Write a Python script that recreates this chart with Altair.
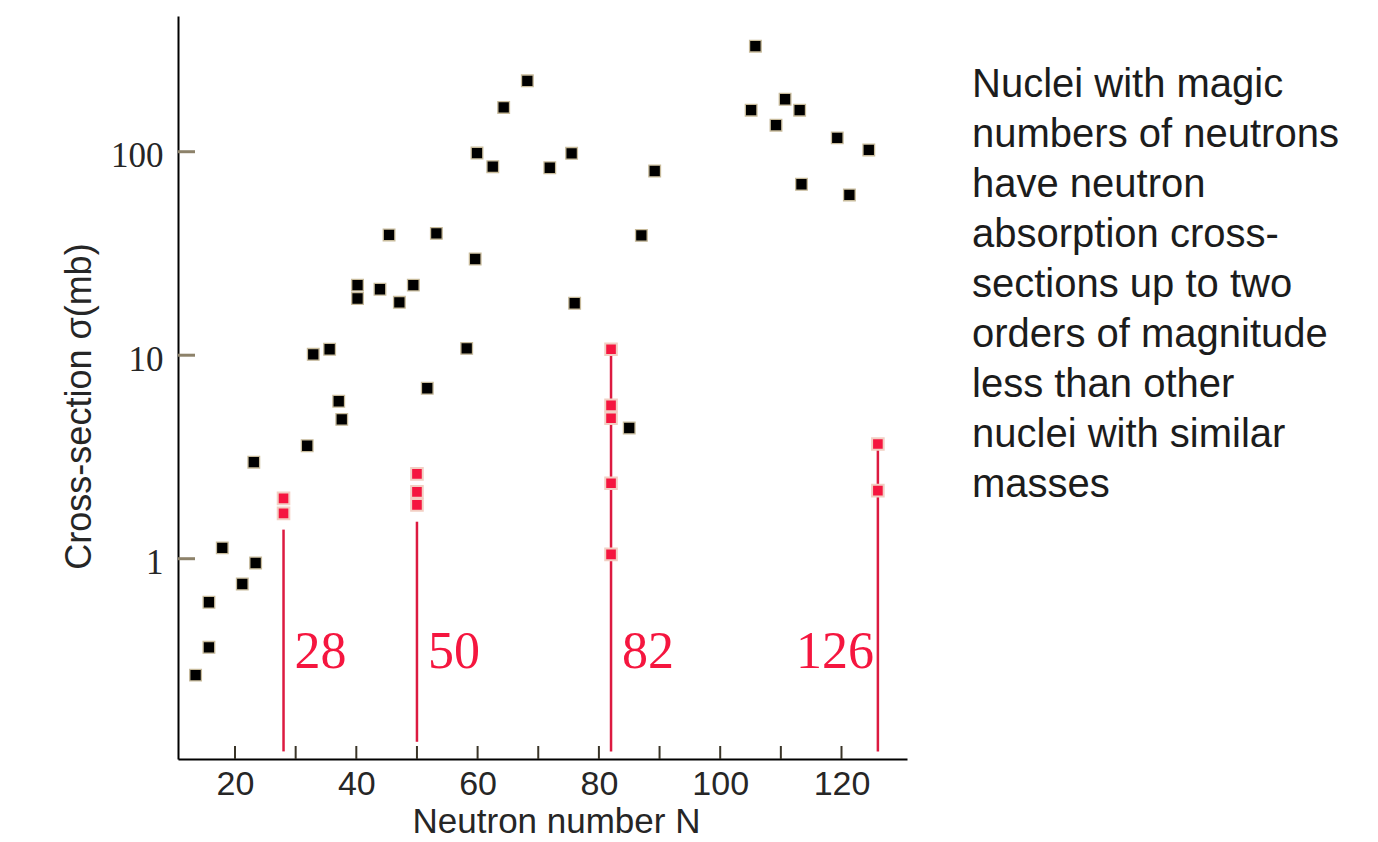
import altair as alt
import pandas as pd

# Neutron absorption cross-sections of ordinary nuclei (black squares)
neutron_n = [13.5, 15.7, 15.7, 17.9, 21.2, 23.4, 23.1, 31.9, 32.9, 35.6,
             37.1, 37.6, 40.2, 40.2, 43.9, 45.4, 47.1, 49.4, 51.7, 53.2,
             58.2, 59.6, 59.9, 62.5, 64.3, 68.2, 71.9, 75.5, 76.0, 85.0,
             87.0, 89.2, 105.1, 105.8, 109.2, 110.7, 113.1, 113.4, 119.3,
             121.3, 124.5]
sigma_mb = [0.268, 0.367, 0.611, 1.13, 0.751, 0.953, 2.98, 3.59, 10.1, 10.7,
            5.94, 4.84, 22.1, 19.0, 21.1, 39.0, 18.2, 22.1, 6.88, 39.7,
            10.8, 29.7, 98.5, 84.4, 165, 223, 83.4, 98.2, 18.0, 4.39,
            38.8, 80.4, 160, 330, 135, 181, 160, 69.2, 117, 61.3, 102]

# Nuclei with a magic number of neutrons (red squares)
magic_pt_n = [28, 28, 50, 50, 50, 82, 82, 82, 82, 82, 126, 126]
magic_pt_sigma = [1.98, 1.67, 2.61, 2.13, 1.84, 10.7, 5.67, 4.90, 2.35, 1.05, 3.66, 2.16]

# Vertical markers at the magic numbers
magic_numbers = [28, 50, 82, 126]
magic_labels = ["28", "50", "82", "126"]
marker_top = [1.39, 1.52, 10.7, 3.66]
marker_bottom = [0.113, 0.126, 0.113, 0.113]
label_sigma = 0.292

x_ticks = [20, 30, 40, 50, 60, 70, 80, 90, 100, 110, 120]
x_labels = [20, 40, 60, 80, 100, 120]
y_ticks = [1, 10, 100]

note_lines = [
    "Nuclei with magic",
    "numbers of neutrons",
    "have neutron",
    "absorption cross-",
    "sections up to two",
    "orders of magnitude",
    "less than other",
    "nuclei with similar",
    "masses",
]

W, H = 729, 743
RED = "#f5163f"
LINE_RED = "#dc1a40"
INK = "#262626"

x_scale = alt.Scale(domain=[10.6, 130.8], nice=False, zero=False)
y_scale = alt.Scale(type="log", domain=[0.1037, 464.4], nice=False)

points = pd.DataFrame({"N": neutron_n, "sigma": sigma_mb})
magic_pts = pd.DataFrame({"N": magic_pt_n, "sigma": magic_pt_sigma})
markers = pd.DataFrame({
    "N": magic_numbers,
    "top": marker_top,
    "bottom": marker_bottom,
    "label": magic_labels,
    "ly": [label_sigma] * len(magic_numbers),
})
xt = pd.DataFrame({"N": x_ticks})
yt = pd.DataFrame({"sigma": y_ticks})
note = pd.DataFrame({"text": ["\n".join(note_lines)]})

base_x = alt.X(
    "N:Q", scale=x_scale,
    axis=alt.Axis(
        values=x_labels, ticks=False, grid=False, domainColor="black",
        domainWidth=2, labelFont="Liberation Sans", labelFontSize=34,
        labelColor=INK, labelPadding=8, title="Neutron number N",
        titleFont="Liberation Sans", titleFontSize=35, titleFontWeight="normal",
        titleColor=INK, titlePadding=3, titleX=378,
    ),
)
base_y = alt.Y(
    "sigma:Q", scale=y_scale,
    axis=alt.Axis(
        values=y_ticks, format="d", ticks=False, grid=False, domainColor="black",
        domainWidth=2, labelFont="Liberation Serif", labelFontSize=35,
        labelColor=INK, labelPadding=15, labelOffset=4,
        title="Cross-section σ(mb)", titleFont="Liberation Sans",
        titleFontSize=36, titleFontWeight="normal", titleColor=INK,
        titlePadding=12, titleY=390,
    ),
)
X = alt.X("N:Q", scale=x_scale)

dots = alt.Chart(points).mark_square(
    size=135, filled=True, fill="black", stroke="#c8bb9b", strokeWidth=1.3, opacity=1
).encode(x=base_x, y=base_y)

rules = alt.Chart(markers).mark_rule(color=LINE_RED, strokeWidth=2.5).encode(
    x=X,
    y=alt.Y("top:Q", scale=y_scale),
    y2="bottom:Q",
)

red_dots = alt.Chart(magic_pts).mark_square(
    size=135, filled=True, fill=RED, stroke="#f2cfc4", strokeWidth=2, opacity=1
).encode(
    x=X,
    y=alt.Y("sigma:Q", scale=y_scale),
)

left_labels = alt.Chart(markers).transform_filter("datum.N < 100").mark_text(
    align="left", baseline="alphabetic", dx=11, font="Liberation Serif",
    fontSize=52, color=RED,
).encode(
    x=X,
    y=alt.Y("ly:Q", scale=y_scale),
    text="label:N",
)

right_labels = alt.Chart(markers).transform_filter("datum.N >= 100").mark_text(
    align="right", baseline="alphabetic", dx=-4, font="Liberation Serif",
    fontSize=52, color=RED,
).encode(
    x=X,
    y=alt.Y("ly:Q", scale=y_scale),
    text="label:N",
)

# Inward-pointing tick marks on both axes
x_tick_marks = alt.Chart(xt).mark_rule(color="#3a3528", strokeWidth=2).encode(
    x=X,
    y=alt.value(H),
    y2=alt.value(H - 13),
)
y_tick_marks = alt.Chart(yt).mark_rule(color="#8d826a", strokeWidth=3).encode(
    y=alt.Y("sigma:Q", scale=y_scale),
    x=alt.value(0),
    x2=alt.value(17),
)

note_text = alt.Chart(note).mark_text(
    align="left", baseline="alphabetic", font="Liberation Sans", fontSize=40,
    lineHeight=50, lineBreak="\n", color="#1c1c1c",
).encode(
    x=alt.value(794),
    y=alt.value(81),
    text="text:N",
)

chart = alt.layer(
    dots, rules, red_dots, left_labels, right_labels,
    x_tick_marks, y_tick_marks, note_text,
).properties(
    width=W, height=H,
    autosize=alt.AutoSizeParams(type="none"),
    padding={"left": 178, "top": 16, "right": 471, "bottom": 83},
    background="white",
).configure_view(stroke=None)

chart.save("out.html", embed_options={"renderer": "svg", "actions": False})
